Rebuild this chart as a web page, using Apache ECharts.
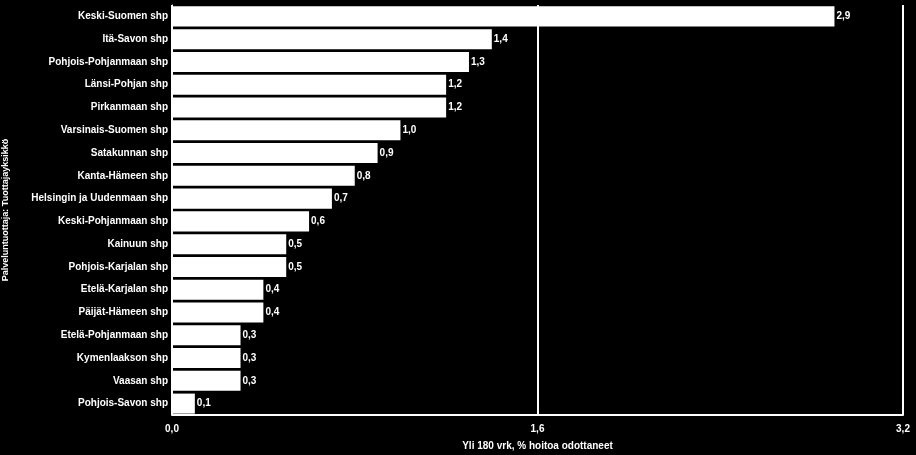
<!DOCTYPE html>
<html><head><meta charset="utf-8">
<script src="https://cdn.jsdelivr.net/npm/echarts@6/dist/echarts.min.js"></script>
<style>html,body{margin:0;padding:0;background:#000;}#c{width:916px;height:455px;}</style>
</head><body><div id="c"></div>
<script>
const categories = ["Keski-Suomen shp","Itä-Savon shp","Pohjois-Pohjanmaan shp","Länsi-Pohjan shp","Pirkanmaan shp","Varsinais-Suomen shp","Satakunnan shp","Kanta-Hämeen shp","Helsingin ja Uudenmaan shp","Keski-Pohjanmaan shp","Kainuun shp","Pohjois-Karjalan shp","Etelä-Karjalan shp","Päijät-Hämeen shp","Etelä-Pohjanmaan shp","Kymenlaakson shp","Vaasan shp","Pohjois-Savon shp"];
const values = [2.9,1.4,1.3,1.2,1.2,1.0,0.9,0.8,0.7,0.6,0.5,0.5,0.4,0.4,0.3,0.3,0.3,0.1];
const xTicks = [0, 1.6, 3.2];
const xName = "Yli 180 vrk, % hoitoa odottaneet";
const yName = "Palveluntuottaja: Tuottajayksikkö";

const fmt = v => v.toFixed(1).replace('.', ',');
const chart = echarts.init(document.getElementById('c'), null, {renderer:'canvas'});
chart.setOption({
  backgroundColor: '#000',
  animation: false,
  grid: {left: 172, right: 13, top: 5, bottom: 40, containLabel: false, outerBoundsMode: 'none'},
  xAxis: {
    type: 'value', min: xTicks[0], max: xTicks[xTicks.length-1], interval: 1.6,
    name: xName, nameLocation: 'middle', nameGap: 26,
    nameTextStyle: {color:'#fff', fontFamily:'Liberation Sans', fontWeight:'bold', fontSize:10},
    axisLine: {show: true, lineStyle: {color:'#fff', width: 2}},
    axisTick: {show: false},
    axisLabel: {color:'#fff', fontFamily:'Liberation Sans', fontWeight:'bold', fontSize:10, formatter: fmt, margin: 9},
    splitLine: {show: true, lineStyle: {color:'#fff', width: 2}}
  },
  yAxis: {
    type: 'category', data: categories, inverse: true,
    name: yName, nameLocation: 'middle', nameGap: 162,
    nameTextStyle: {color:'#fff', fontFamily:'Liberation Sans', fontWeight:'bold', fontSize:9},
    axisLine: {show: true, lineStyle: {color:'#fff', width: 1}},
    axisTick: {show: false},
    axisLabel: {color:'#fff', fontFamily:'Liberation Sans', fontWeight:'bold', fontSize:10, margin: 4}
  },
  series: [{
    type: 'bar', data: values, barCategoryGap: '12%',
    itemStyle: {color: '#fff'},
    label: {show: true, position: 'right', distance: 2, color:'#fff', fontFamily:'Liberation Sans', fontWeight:'bold', fontSize:10, formatter: p => fmt(p.value)}
  }]
});
</script></body></html>
